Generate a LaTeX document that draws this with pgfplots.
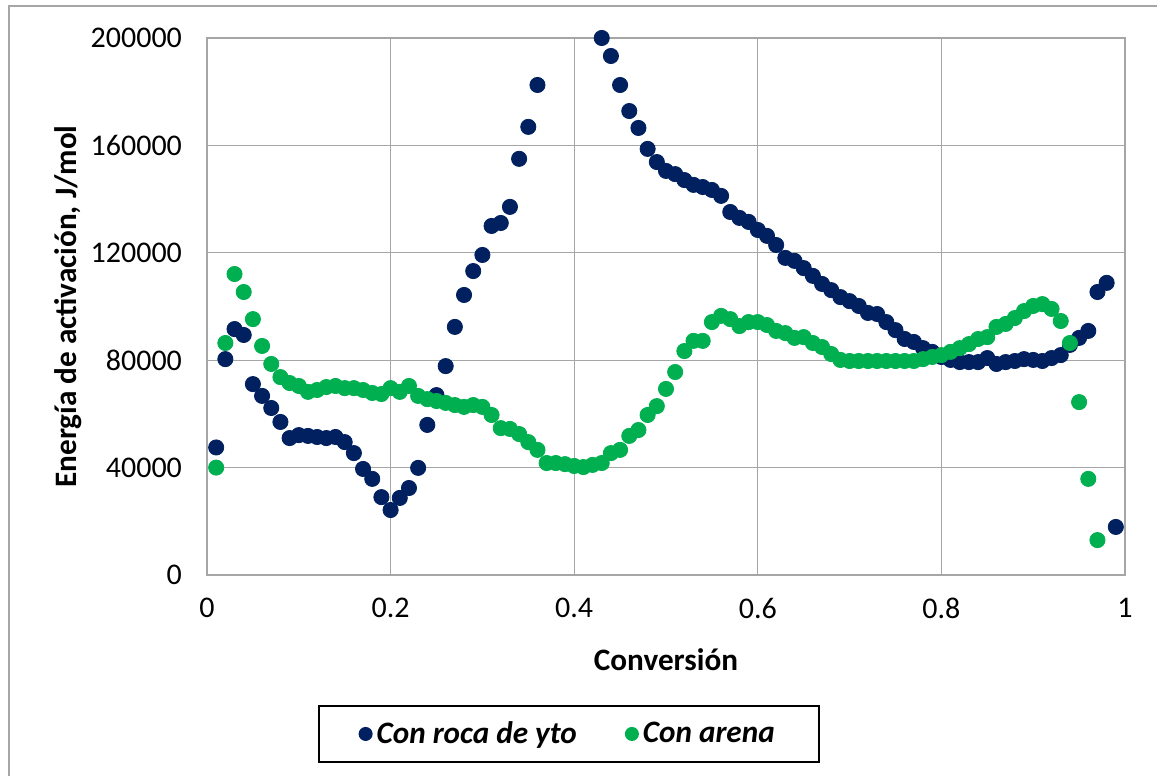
\documentclass[border=0pt]{standalone}
\usepackage{pgfplots}
\pgfplotsset{compat=1.18}
\usepackage{fontspec}
\setmainfont{Carlito}
\definecolor{dblue}{HTML}{002060}
\definecolor{dgreen}{HTML}{00B050}
\definecolor{gridc}{HTML}{A6A6A6}
\begin{document}
\begin{tikzpicture}
\useasboundingbox (-103.5pt,-100.5pt) rectangle (475pt,287.5pt);
\begin{axis}[
  at={(0,0)}, anchor=origin,
  scale only axis, width=459pt, height=268.5pt,
  xmin=0, xmax=1, ymin=0, ymax=200000,
  xtick={0,0.2,0.4,0.6,0.8,1},
  ytick={0,40000,80000,120000,160000,200000},
  scaled y ticks=false,
  /pgf/number format/assume math mode=true,
  yticklabel={\pgfmathprintnumber[fixed,set thousands separator={}]{\tick}},
  xticklabel={\pgfmathprintnumber[fixed]{\tick}},
  grid=major, major grid style={gridc, line width=0.6pt},
  axis line style={gridc, line width=0.6pt},
  tick style={draw=none},
  tick label style={font=\fontsize{15}{17}\selectfont},
  xticklabel style={yshift=-8pt},
  yticklabel style={xshift=-9pt},
  xlabel={\textbf{Conversión}},
  ylabel={\textbf{Energía de activación, J/mol}},
  label style={font=\fontsize{15.6}{18}\selectfont},
  xlabel style={at={(axis description cs:0.5,-0.158)}, anchor=center},
  ylabel style={at={(axis description cs:-0.151,0.5)}, anchor=center},
  legend columns=2,
  legend style={at={(axis description cs:0.394,-0.296)}, anchor=center,
    draw=black, line width=1pt, font=\fontsize{15.6}{18}\selectfont\bfseries\itshape,
    inner xsep=20pt, inner ysep=6pt,
    /tikz/every even column/.append style={column sep=22pt}},
  legend image code/.code={\fill[#1] (0.1cm,0cm) circle (3pt);},
  clip=false,
]
\addplot[only marks, mark=*, mark size=3.8pt, color=dblue, mark options={fill=dblue, draw=dblue}] coordinates {
(0.01,47500)(0.02,80400)(0.03,91600)(0.04,89400)(0.05,71100)(0.06,66700)(0.07,62200)(0.08,57000)(0.09,51000)(0.10,52100)
(0.11,51800)(0.12,51400)(0.13,51000)(0.14,51400)(0.15,49500)(0.16,45400)(0.17,39500)(0.18,35800)(0.19,29000)(0.20,24200)
(0.21,28700)(0.22,32400)(0.23,39900)(0.24,55900)(0.25,67000)(0.26,77800)(0.27,92400)(0.28,104300)(0.29,113200)(0.30,119200)
(0.31,130000)(0.32,131100)(0.33,137100)(0.34,155000)(0.35,166900)(0.36,182500)
(0.43,200000)(0.44,193300)(0.45,182500)(0.46,172800)(0.47,166500)(0.48,158700)(0.49,153800)(0.50,150500)
(0.51,149300)(0.52,147100)(0.53,145300)(0.54,144500)(0.55,143400)(0.56,141200)(0.57,135200)(0.58,133000)(0.59,131500)(0.60,128500)
(0.61,126300)(0.62,122900)(0.63,118100)(0.64,117000)(0.65,114300)(0.66,111400)(0.67,108400)(0.68,106100)(0.69,103500)(0.70,102000)
(0.71,100200)(0.72,97600)(0.73,97200)(0.74,94200)(0.75,91200)(0.76,87900)(0.77,86800)(0.78,84500)(0.79,83100)(0.80,81200)
(0.81,80100)(0.82,79300)(0.83,79300)(0.84,79300)(0.85,80800)(0.86,78600)(0.87,79300)(0.88,79700)(0.89,80400)(0.90,80100)
(0.91,79700)(0.92,80800)(0.93,81900)(0.94,85700)(0.95,88300)(0.96,90900)(0.97,105400)(0.98,108800)(0.99,17900)
};
\addlegendentry{Con roca de yto}
\addplot[only marks, mark=*, mark size=3.8pt, color=dgreen, mark options={fill=dgreen, draw=dgreen}] coordinates {
(0.01,40000)(0.02,86400)(0.03,112100)(0.04,105400)(0.05,95300)(0.06,85300)(0.07,78600)(0.08,73700)(0.09,71500)(0.10,70400)
(0.11,68200)(0.12,68900)(0.13,70000)(0.14,70400)(0.15,69600)(0.16,69600)(0.17,68900)(0.18,67800)(0.19,67400)(0.20,69600)
(0.21,68200)(0.22,70400)(0.23,66700)(0.24,65500)(0.25,64800)(0.26,64100)(0.27,63300)(0.28,62600)(0.29,63300)(0.30,62600)
(0.31,59600)(0.32,54700)(0.33,54400)(0.34,52500)(0.35,49500)(0.36,46600)(0.37,41700)(0.38,41700)(0.39,41300)(0.40,40600)
(0.41,40200)(0.42,41000)(0.43,41700)(0.44,45400)(0.45,46600)(0.46,51800)(0.47,54000)(0.48,59600)(0.49,62900)(0.50,69300)
(0.51,75600)(0.52,83400)(0.53,87200)(0.54,87200)(0.55,94200)(0.56,96500)(0.57,95300)(0.58,92700)(0.59,94200)(0.60,94200)
(0.61,93100)(0.62,90900)(0.63,90100)(0.64,88300)(0.65,88600)(0.66,86400)(0.67,84900)(0.68,82300)(0.69,80100)(0.70,79700)
(0.71,79700)(0.72,79700)(0.73,79700)(0.74,79700)(0.75,79700)(0.76,79700)(0.77,79700)(0.78,80400)(0.79,81200)(0.80,81900)
(0.81,83100)(0.82,84500)(0.83,86000)(0.84,87900)(0.85,88600)(0.86,92400)(0.87,93500)(0.88,95700)(0.89,98300)(0.90,100200)
(0.91,100900)(0.92,99100)(0.93,94600)(0.94,86400)(0.95,64400)(0.96,35800)(0.97,13000)
};
\addlegendentry{Con arena}
\end{axis}
\draw[gridc, line width=0.8pt] (-99pt,-100.5pt) -- (-99pt,284.5pt) -- (475pt,284.5pt);
\end{tikzpicture}
\end{document}
